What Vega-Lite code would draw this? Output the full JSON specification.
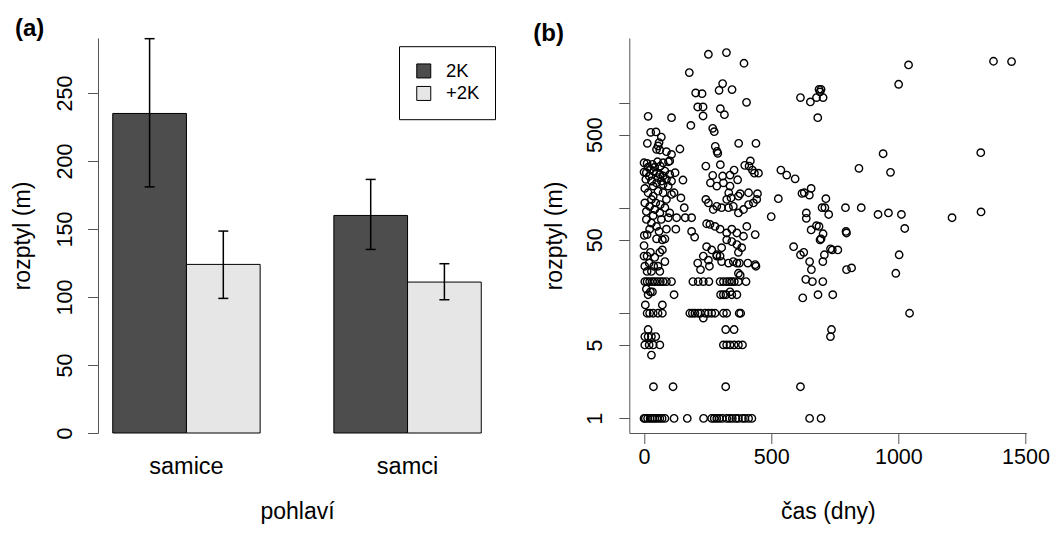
{
  "$schema": "https://vega.github.io/schema/vega-lite/v6.json",
  "background": "white",
  "padding": {"left": 11, "top": 17, "right": 5, "bottom": 5},
  "bounds": "flush",
  "spacing": 133.3,
  "config": {
    "view": {"stroke": null},
    "font": "Liberation Sans",
    "axis": {
      "labelFont": "Liberation Sans", "titleFont": "Liberation Sans",
      "labelColor": "black", "titleColor": "black", "titleFontWeight": "normal",
      "domainColor": "#555555", "tickColor": "#555555", "domainWidth": 1, "tickWidth": 1,
      "labelFontSize": 21.5, "titleFontSize": 23, "grid": false
    }
  },
  "hconcat": [
    {
      "width": 398, "height": 395,
      "title": {"text": "(a)", "anchor": "start", "frame": "group", "fontSize": 24, "fontWeight": "bold", "font": "Liberation Sans", "color": "black", "offset": 0, "baseline": "alphabetic", "dx": -83, "dy": 22.2},
      "data": {"values": [
        {"pohlavi": "samice", "skupina": "2K", "prumer": 235, "dolni": 181, "horni": 290},
        {"pohlavi": "samice", "skupina": "+2K", "prumer": 124, "dolni": 99, "horni": 148.5},
        {"pohlavi": "samci", "skupina": "2K", "prumer": 160, "dolni": 135, "horni": 186.5},
        {"pohlavi": "samci", "skupina": "+2K", "prumer": 111, "dolni": 98, "horni": 124.5}
      ]},
      "encoding": {
        "x": {"field": "pohlavi", "type": "nominal", "sort": ["samice", "samci"],
          "scale": {"paddingInner": 0.3333, "paddingOuter": 0.0667},
          "axis": {"title": "pohlaví", "labelAngle": 0, "labelFontSize": 23.5, "domain": false, "ticks": false, "tickSize": 0, "labelPadding": 40, "labelBaseline": "alphabetic", "titleY": 85, "titleBaseline": "alphabetic"}},
        "xOffset": {"field": "skupina", "type": "nominal", "sort": ["2K", "+2K"], "scale": {"paddingInner": 0, "paddingOuter": 0}}
      },
      "layer": [
        {
          "mark": {"type": "bar", "stroke": "black", "strokeWidth": 1},
          "encoding": {
            "y": {"field": "prumer", "type": "quantitative", "title": "rozptyl (m)",
              "scale": {"domain": [0, 290.5], "nice": false, "zero": true},
              "axis": {"values": [0, 50, 100, 150, 200, 250], "labelAngle": 270, "labelAlign": "center", "labelBaseline": "alphabetic", "tickSize": 10.5, "labelPadding": 16, "labelOverlap": false, "titleX": -75.5, "titleY": 197.5, "titleAngle": 270, "titleAlign": "center", "titleBaseline": "middle"}},
            "fill": {"field": "skupina", "type": "nominal",
              "scale": {"domain": ["2K", "+2K"], "range": ["#4d4d4d", "#e6e6e6"]},
              "legend": {"orient": "none", "legendX": 301, "legendY": 8.2, "title": null, "strokeColor": "black", "fillColor": "white", "padding": 15.5, "symbolType": "square", "symbolSize": 196, "symbolStrokeColor": "black", "symbolStrokeWidth": 1, "symbolOpacity": 1, "labelFont": "Liberation Sans", "labelFontSize": 18.5, "labelColor": "black", "labelOffset": 13, "rowPadding": 3.5}}
          }
        },
        {
          "mark": {"type": "rule", "color": "black", "strokeWidth": 1.5},
          "encoding": {
            "y": {"field": "dolni", "type": "quantitative", "title": "rozptyl (m)"},
            "y2": {"field": "horni"}
          }
        },
        {
          "mark": {"type": "tick", "color": "black", "size": 10, "thickness": 1.5, "opacity": 1},
          "encoding": {"y": {"field": "dolni", "type": "quantitative", "title": "rozptyl (m)"}}
        },
        {
          "mark": {"type": "tick", "color": "black", "size": 10, "thickness": 1.5, "opacity": 1},
          "encoding": {"y": {"field": "horni", "type": "quantitative", "title": "rozptyl (m)"}}
        }
      ]
    },
    {
      "width": 397, "height": 395,
      "title": {"text": "(b)", "anchor": "start", "frame": "group", "fontSize": 24, "fontWeight": "bold", "font": "Liberation Sans", "color": "black", "offset": 0, "baseline": "alphabetic", "dx": -96, "dy": 27.2},
      "data": {"values": [
        {"t":253,"r":2906},{"t":324,"r":3015},{"t":393,"r":2387},{"t":178,"r":1945},{"t":1040,"r":2300},{"t":1374,"r":2494},{"t":1445,"r":2477},{"t":1001,"r":1506},{"t":309,"r":1528},{"t":295,"r":1320},{"t":346,"r":1340},{"t":203,"r":1245},{"t":228,"r":1227},{"t":615,"r":1125},{"t":654,"r":1023},{"t":688,"r":1349},{"t":696,"r":1349},{"t":692,"r":1274},{"t":678,"r":1125},{"t":704,"r":1125},{"t":403,"r":1014},{"t":211,"r":916},{"t":232,"r":916},{"t":300,"r":883},{"t":316,"r":774},{"t":232,"r":752},{"t":16,"r":746},{"t":108,"r":725},{"t":683,"r":725},{"t":184,"r":612},{"t":270,"r":574},{"t":276,"r":533},{"t":26,"r":526},{"t":47,"r":530},{"t":68,"r":474},{"t":13,"r":413},{"t":372,"r":413},{"t":440,"r":413},{"t":280,"r":387},{"t":141,"r":365},{"t":940,"r":329},{"t":1324,"r":337},{"t":287,"r":347},{"t":290,"r":332},{"t":49,"r":362},{"t":62,"r":357},{"t":88,"r":344},{"t":108,"r":324},{"t":101,"r":281},{"t":55,"r":390},{"t":59,"r":420},
        {"t":0,"r":270},{"t":12,"r":266},{"t":33,"r":261},{"t":53,"r":276},{"t":75,"r":270},{"t":96,"r":276},{"t":243,"r":251},{"t":300,"r":259},{"t":396,"r":255},{"t":418,"r":281},{"t":413,"r":251},{"t":845,"r":239},{"t":538,"r":230},{"t":561,"r":206},{"t":594,"r":190},{"t":969,"r":219},{"t":354,"r":230},{"t":338,"r":206},{"t":368,"r":186},{"t":426,"r":230},{"t":434,"r":215},{"t":450,"r":215},
        {"t":0,"r":220},{"t":9,"r":217},{"t":25,"r":233},{"t":38,"r":225},{"t":49,"r":217},{"t":62,"r":209},{"t":75,"r":202},{"t":88,"r":188},{"t":122,"r":217},{"t":153,"r":185},{"t":7,"r":188},{"t":29,"r":181},{"t":49,"r":174},{"t":68,"r":181},{"t":95,"r":162},{"t":3,"r":154},{"t":16,"r":245},{"t":42,"r":245},{"t":64,"r":251},{"t":82,"r":225},{"t":101,"r":209},{"t":20,"r":202},{"t":36,"r":162},{"t":55,"r":195},{"t":75,"r":168},{"t":108,"r":181},{"t":118,"r":140},
        {"t":270,"r":205},{"t":261,"r":174},{"t":286,"r":162},{"t":312,"r":174},{"t":338,"r":162},{"t":309,"r":202},{"t":333,"r":140},{"t":342,"r":125},{"t":371,"r":130},{"t":378,"r":137},{"t":411,"r":140},{"t":446,"r":137},{"t":528,"r":123},{"t":621,"r":138},{"t":630,"r":140},{"t":657,"r":154},{"t":650,"r":133},{"t":715,"r":123},{"t":700,"r":101},{"t":711,"r":101},{"t":726,"r":87},{"t":792,"r":101},{"t":854,"r":101},{"t":920,"r":87},{"t":961,"r":90},{"t":1012,"r":87},{"t":1211,"r":81},{"t":1325,"r":92},{"t":500,"r":83},{"t":638,"r":90},{"t":638,"r":80},{"t":657,"r":62},{"t":678,"r":68},{"t":688,"r":67},{"t":704,"r":57},{"t":692,"r":50},{"t":696,"r":51},{"t":794,"r":60},{"t":796,"r":58},{"t":1025,"r":64},
        {"t":16,"r":140},{"t":36,"r":130},{"t":55,"r":145},{"t":75,"r":140},{"t":88,"r":121},{"t":108,"r":135},{"t":145,"r":125},{"t":3,"r":112},{"t":22,"r":104},{"t":42,"r":97},{"t":62,"r":90},{"t":82,"r":101},{"t":101,"r":90},{"t":128,"r":81},{"t":158,"r":101},{"t":162,"r":81},{"t":187,"r":81},{"t":9,"r":78},{"t":29,"r":72},{"t":49,"r":67},{"t":68,"r":78},{"t":88,"r":63},{"t":125,"r":63},{"t":187,"r":60},{"t":12,"r":56},{"t":1,"r":55},{"t":49,"r":51},{"t":82,"r":51},{"t":72,"r":50},{"t":199,"r":53},{"t":29,"r":121},{"t":46,"r":112},{"t":9,"r":93},{"t":64,"r":108},{"t":95,"r":81},{"t":36,"r":85},{"t":59,"r":60},{"t":22,"r":63},
        {"t":243,"r":121},{"t":253,"r":112},{"t":272,"r":97},{"t":286,"r":104},{"t":305,"r":101},{"t":325,"r":121},{"t":332,"r":101},{"t":351,"r":104},{"t":371,"r":90},{"t":391,"r":97},{"t":411,"r":108},{"t":430,"r":112},{"t":443,"r":121},{"t":246,"r":71},{"t":259,"r":70},{"t":279,"r":67},{"t":299,"r":63},{"t":325,"r":58},{"t":345,"r":63},{"t":365,"r":58},{"t":391,"r":54},{"t":404,"r":67},{"t":437,"r":56},{"t":246,"r":43},{"t":266,"r":40},{"t":286,"r":36},{"t":305,"r":42},{"t":325,"r":50},{"t":345,"r":48},{"t":365,"r":45},{"t":384,"r":42},{"t":371,"r":38},
        {"t":0,"r":44},{"t":12,"r":35},{"t":25,"r":38},{"t":42,"r":34},{"t":62,"r":38},{"t":72,"r":40},{"t":3,"r":28},{"t":20,"r":30},{"t":38,"r":28},{"t":55,"r":28},{"t":82,"r":31},{"t":12,"r":25},{"t":29,"r":25},{"t":62,"r":25},{"t":0,"r":35},
        {"t":233,"r":35},{"t":253,"r":32},{"t":211,"r":30},{"t":222,"r":26},{"t":257,"r":28},{"t":286,"r":35},{"t":299,"r":35},{"t":305,"r":31},{"t":332,"r":30},{"t":351,"r":31},{"t":365,"r":30},{"t":375,"r":30},{"t":408,"r":30},{"t":437,"r":29},{"t":440,"r":28},{"t":371,"r":24},{"t":378,"r":23},
        {"t":588,"r":43},{"t":628,"r":38},{"t":615,"r":36},{"t":733,"r":41},{"t":740,"r":40},{"t":762,"r":40},{"t":709,"r":36},{"t":703,"r":31},{"t":1003,"r":36},{"t":651,"r":31},{"t":658,"r":26},{"t":816,"r":27},{"t":796,"r":26},{"t":990,"r":24},
        {"t":3,"r":20},{"t":12,"r":20},{"t":22,"r":20},{"t":33,"r":20},{"t":42,"r":20},{"t":53,"r":20},{"t":64,"r":20},{"t":75,"r":20},{"t":88,"r":20},{"t":108,"r":20},{"t":192,"r":20},{"t":213,"r":20},{"t":233,"r":20},{"t":255,"r":20},{"t":299,"r":20},{"t":312,"r":20},{"t":325,"r":20},{"t":336,"r":20},{"t":345,"r":20},{"t":355,"r":20},{"t":371,"r":20},{"t":401,"r":20},{"t":636,"r":21},{"t":662,"r":20},{"t":703,"r":20},
        {"t":9,"r":17},{"t":16,"r":15},{"t":25,"r":16},{"t":33,"r":16},{"t":118,"r":15},{"t":301,"r":15},{"t":312,"r":15},{"t":322,"r":15},{"t":338,"r":16},{"t":345,"r":15},{"t":365,"r":15},{"t":624,"r":14},{"t":684,"r":15},{"t":742,"r":15},
        {"t":5,"r":12},{"t":72,"r":12},
        {"t":12,"r":10},{"t":22,"r":10},{"t":36,"r":10},{"t":55,"r":10},{"t":72,"r":10},{"t":180,"r":10},{"t":190,"r":10},{"t":200,"r":10},{"t":213,"r":10},{"t":222,"r":10},{"t":240,"r":10},{"t":253,"r":10},{"t":266,"r":10},{"t":279,"r":10},{"t":312,"r":10},{"t":325,"r":10},{"t":374,"r":10},{"t":380,"r":10},{"t":1044,"r":10},{"t":233,"r":9},
        {"t":16,"r":7},{"t":321,"r":7},{"t":354,"r":7},{"t":737,"r":7},
        {"t":3,"r":6},{"t":16,"r":6},{"t":29,"r":6},{"t":46,"r":6},{"t":733,"r":6},
        {"t":3,"r":5},{"t":20,"r":5},{"t":36,"r":5},{"t":62,"r":5},{"t":312,"r":5},{"t":325,"r":5},{"t":338,"r":5},{"t":354,"r":5},{"t":371,"r":5},{"t":387,"r":5},
        {"t":29,"r":4},
        {"t":37,"r":2},{"t":114,"r":2},{"t":321,"r":2},{"t":615,"r":2},
        {"t":0,"r":1},{"t":5,"r":1},{"t":14,"r":1},{"t":24,"r":1},{"t":33,"r":1},{"t":42,"r":1},{"t":51,"r":1},{"t":62,"r":1},{"t":71,"r":1},{"t":82,"r":1},{"t":118,"r":1},{"t":170,"r":1},{"t":234,"r":1},{"t":266,"r":1},{"t":276,"r":1},{"t":286,"r":1},{"t":296,"r":1},{"t":308,"r":1},{"t":325,"r":1},{"t":336,"r":1},{"t":347,"r":1},{"t":361,"r":1},{"t":371,"r":1},{"t":387,"r":1},{"t":397,"r":1},{"t":411,"r":1},{"t":424,"r":1},{"t":651,"r":1},{"t":696,"r":1}
      ]},
      "mark": {"type": "point", "shape": "circle", "filled": false, "stroke": "black", "strokeWidth": 1.4, "size": 55, "opacity": 1},
      "encoding": {
        "x": {"field": "t", "type": "quantitative", "title": "čas (dny)",
          "scale": {"domain": [-58, 1503], "nice": false, "zero": false},
          "axis": {"values": [0, 500, 1000, 1500], "format": "d", "tickSize": 10.5, "labelPadding": 19.5, "labelBaseline": "alphabetic", "labelFlush": false, "labelOverlap": false, "titleY": 85, "titleBaseline": "alphabetic"}},
        "y": {"field": "r", "type": "quantitative", "title": "rozptyl (m)",
          "scale": {"type": "log", "domain": [0.726, 4150], "nice": false},
          "axis": {"values": [1, 5, 10, 50, 100, 500, 1000], "labelExpr": "datum.value == 1 || datum.value == 5 || datum.value == 50 || datum.value == 500 ? '' + datum.value : ''", "labelAngle": 270, "labelAlign": "center", "labelBaseline": "alphabetic", "tickSize": 10.5, "labelPadding": 17, "labelOverlap": false, "labelFlush": false, "titleX": -75.3, "titleY": 197.5, "titleAngle": 270, "titleAlign": "center", "titleBaseline": "middle"}}
      }
    }
  ]
}
